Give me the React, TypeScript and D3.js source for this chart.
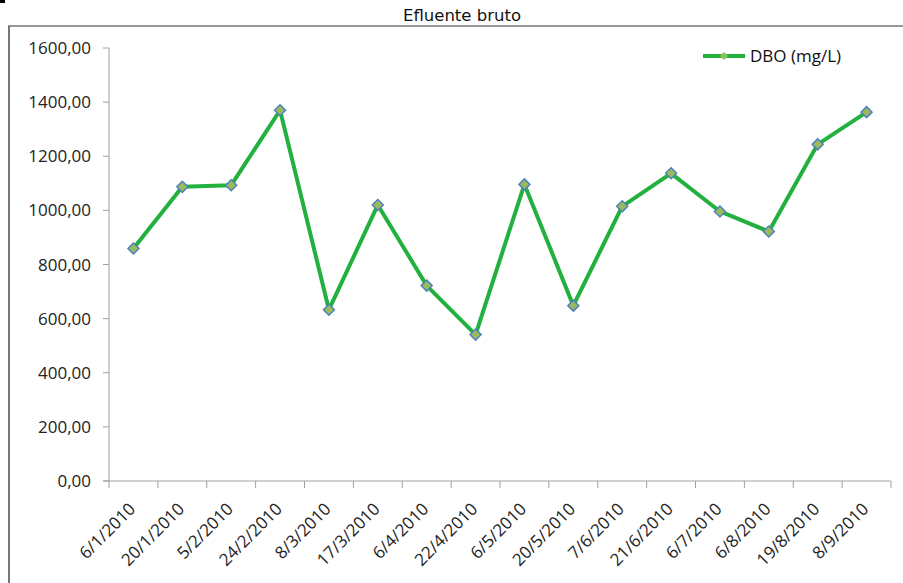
import React from "react";
import * as d3 from "d3";

const categories = ["6/1/2010","20/1/2010","5/2/2010","24/2/2010","8/3/2010","17/3/2010","6/4/2010","22/4/2010","6/5/2010","20/5/2010","7/6/2010","21/6/2010","6/7/2010","6/8/2010","19/8/2010","8/9/2010"];
const dboValues = [859, 1087, 1093, 1370, 633, 1020, 722, 541, 1096, 648, 1015, 1137, 996, 922, 1244, 1363];
const yTicks = [0, 200, 400, 600, 800, 1000, 1200, 1400, 1600];
const title = "Efluente bruto";
const seriesName = "DBO (mg/L)";

export default function App() {
  const W = 903, H = 583;
  const left = 109, right = 891, top = 48, bottom = 481;
  const x = d3.scaleBand<string>().domain(categories).range([left, right]).padding(0);
  const y = d3.scaleLinear().domain([0, 1600]).range([bottom, top]);
  const line = d3.line<number>()
    .x((_, i) => (x(categories[i]) as number) + x.bandwidth() / 2)
    .y((d) => y(d));
  const fmt = (v: number) => v.toFixed(2).replace(".", ",");
  const font = "'Open Sans', 'Noto Sans', sans-serif";
  const titleFont = "'DejaVu Sans', sans-serif";
  const diamond = (cx: number, cy: number, r: number) =>
    `M${cx},${cy - r}L${cx + r},${cy}L${cx},${cy + r}L${cx - r},${cy}Z`;
  const boundaries = categories.map((c) => x(c) as number).concat([right]);
  return (
    <svg width={W} height={H} style={{ position: "absolute", left: 0, top: 0, background: "#fff" }}>
      <rect x={0} y={0} width={W} height={H} fill="#fff" />
      <rect x={0} y={0} width={5} height={3} fill="#000" />
      <line x1={8} y1={26} x2={W} y2={26} stroke="#777" strokeWidth={1.5} />
      <line x1={9} y1={26} x2={9} y2={H} stroke="#777" strokeWidth={2} />
      <text x={462} y={21} textAnchor="middle" fontFamily={titleFont} fontSize={16.5} fill="#111">{title}</text>
      {/* y axis */}
      <line x1={left} y1={top} x2={left} y2={bottom} stroke="#a0a0a0" strokeWidth={1} />
      {yTicks.map((t) => (
        <g key={t}>
          <line x1={left - 6} x2={left} y1={y(t)} y2={y(t)} stroke="#a0a0a0" />
          <text x={left - 18} y={y(t)} dy="0.36em" textAnchor="end" fontFamily={font} fontSize={17} fill="#222">{fmt(t)}</text>
        </g>
      ))}
      {/* x axis */}
      <line x1={left - 6} y1={bottom} x2={right} y2={bottom} stroke="#a0a0a0" />
      {boundaries.map((b, i) => (
        <line key={i} x1={b} x2={b} y1={bottom} y2={bottom + 7} stroke="#a0a0a0" />
      ))}
      {categories.map((c) => {
        const cx = (x(c) as number) + x.bandwidth() / 2 + 3;
        const cy = bottom + 29;
        return (
          <text key={c} x={cx} y={cy} textAnchor="end" fontFamily={font} fontSize={17} fill="#222"
            transform={`rotate(-45 ${cx} ${cy})`}>{c}</text>
        );
      })}
      {/* series */}
      <path d={line(dboValues) || ""} fill="none" stroke="#22b03f" strokeWidth={4} strokeLinejoin="round" />
      {dboValues.map((v, i) => {
        const cx = (x(categories[i]) as number) + x.bandwidth() / 2;
        return <path key={i} d={diamond(cx, y(v), 5.5)} fill="#9bbb59" stroke="#4f81bd" strokeWidth={1.5} />;
      })}
      {/* legend */}
      <line x1={703} x2={745} y1={56} y2={56} stroke="#22b03f" strokeWidth={4} />
      <path d={diamond(724, 56, 3.5)} fill="#9bbb59" stroke="#8fbf50" strokeWidth={1} />
      <text x={750} y={56} dy="0.36em" fontFamily={font} fontSize={17} fill="#111">{seriesName}</text>
    </svg>
  );
}
